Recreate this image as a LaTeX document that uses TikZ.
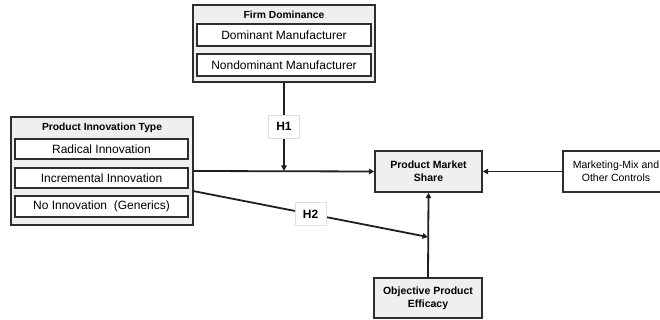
\documentclass[tikz,border=0pt]{standalone}
\usepackage{fontspec}
\setmainfont{Liberation Sans}
\usetikzlibrary{arrows.meta}
\definecolor{boxgray}{HTML}{EFEFEF}
\definecolor{edgegray}{HTML}{2E2E2E}
\begin{document}
\begin{tikzpicture}[x=1pt,y=-1pt,
 outer/.style={draw=edgegray, line width=1.4pt, fill=boxgray, rectangle, inner sep=0pt},
 innerbox/.style={draw=edgegray, line width=1.4pt, fill=white, rectangle, inner sep=0pt, font=\fontsize{12}{14}\selectfont, minimum width=173pt, minimum height=20pt},
 titletext/.style={font=\fontsize{10.3}{12}\selectfont\bfseries, inner sep=0pt},
 construct/.style={draw=edgegray, line width=1.4pt, fill=boxgray, inner sep=0pt, align=center, font=\fontsize{10.5}{12.7}\selectfont\bfseries},
 arr/.style={line width=1.8pt, draw=black!88, -{Triangle[length=5.5pt,width=5.5pt]}},
 hyp/.style={fill=white, draw=black!12, line width=0.6pt, font=\fontsize{12}{14}\selectfont\bfseries, minimum width=31pt, minimum height=23pt, inner sep=0pt}]
\useasboundingbox (0,0) rectangle (660,320);

% Firm Dominance
\node[outer, minimum width=182pt, minimum height=77pt] (firm) at (284,43.5) {};
\node[titletext] (firmt) at (284,15) {Firm Dominance};
\node[innerbox, minimum width=174pt, minimum height=22pt] (dom) at (284,35) {Dominant Manufacturer};
\node[innerbox, minimum width=174pt, minimum height=22pt] (nondom) at (284,65) {Nondominant Manufacturer};

% Product Innovation Type
\node[outer, minimum width=182pt, minimum height=108pt] (pit) at (102,171) {};
\node[titletext] (pitt) at (102,127.5) {Product Innovation Type};
\node[innerbox] (rad) at (101.5,149) {Radical Innovation};
\node[innerbox] (inc) at (101.5,178) {Incremental Innovation};
\node[innerbox, minimum height=21pt] (noinn) at (101.5,206.5) {No Innovation\ \ (Generics)};

% Constructs
\node[construct, minimum width=107pt, minimum height=41pt] (pms) at (428.5,171.5) {Product Market\\Share};
\node[draw=edgegray, line width=1.4pt, fill=white, inner sep=0pt, minimum width=106pt, minimum height=41pt] (mix) at (616,171.5) {};
\node[align=center, font=\fontsize{10.5}{12.7}\selectfont, inner sep=0pt] (mixt) at (616,171.5) {Marketing-Mix and\\Other Controls};
\node[construct, minimum width=108pt, minimum height=40pt] (ope) at (428,298) {Objective Product\\Efficacy};

% Connectors
\coordinate (h1end) at (284,171);
\coordinate (h2s) at (193,191);
\coordinate (h2e) at (428,237);
\draw[arr] (pit.east) -- (pms.west);
\draw[arr] (firm.south) -- node[hyp] (h1) {H1} (h1end);
\draw[arr] (h2s) -- node[hyp, pos=0.5] (h2) {H2} (h2e);
\draw[arr] (ope.north) -- (pms.south);
\draw[arr] (mix.west) -- (pms.east);
\end{tikzpicture}
\end{document}
